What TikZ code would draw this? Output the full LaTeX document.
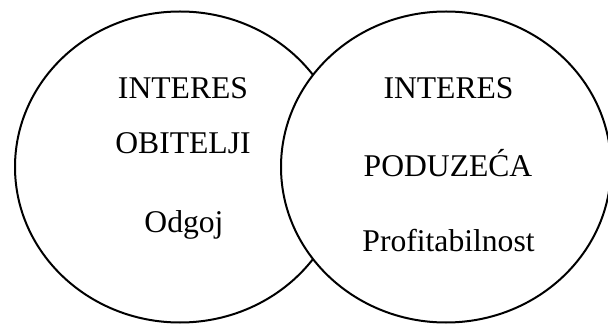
\documentclass[tikz,border=0pt]{standalone}
\usepackage{fontspec}
\setmainfont{Liberation Serif}
\usepackage{tikz}
\usetikzlibrary{positioning}

\begin{document}
\begin{tikzpicture}[x=0.02cm,y=-0.02cm,
    krug/.style={black,line width=0.04cm,fill=white},
    txt/.style={anchor=base,inner sep=0pt,font=\fontsize{18}{22}\selectfont}]
    \useasboundingbox (0,0) rectangle (608,324);
    % dva kruga (desni preko lijevog)
    \draw[krug] (180,167) ellipse [x radius=165,y radius=155.5];
    \draw[krug] (446,167) ellipse [x radius=165,y radius=155.5];
    % lijevi krug
    \node[txt] (intObitelj) at (183,99) {INTERES};
    \node[txt] (obitelj) at (183,154) {OBITELJI};
    \node[txt] (odgoj) at (184,233) {Odgoj};
    % desni krug
    \node[txt] (intPoduzece) at (448.5,99) {INTERES};
    \node[txt] (poduzece) at (448,176) {PODUZEĆA};
    \node[txt] (profit) at (448.5,251) {Profitabilnost};
\end{tikzpicture}
\end{document}
